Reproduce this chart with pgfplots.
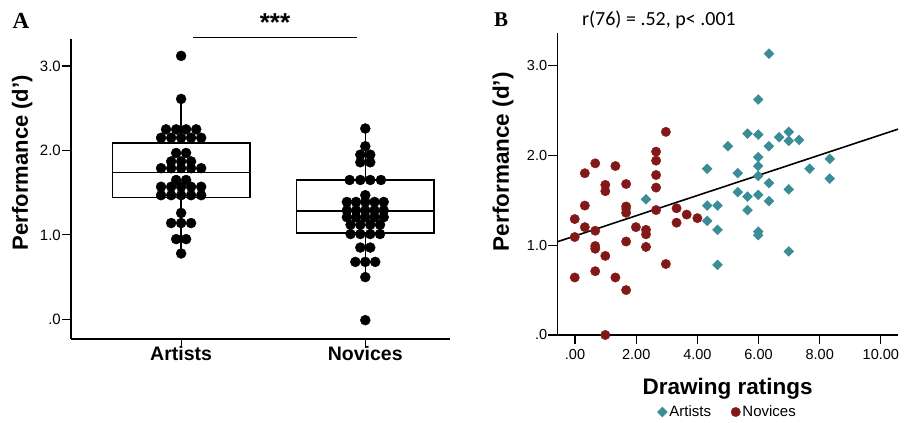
\documentclass[border=0pt]{standalone}
\usepackage{pgfplots}
\pgfplotsset{compat=1.18}
\usepgfplotslibrary{statistics}
\usepackage{fontspec}
\setmainfont{Liberation Sans}
\newfontfamily\serifbold{Liberation Serif}
\newfontfamily\calibri{Carlito}
\definecolor{artteal}{RGB}{58,140,150}
\definecolor{novred}{RGB}{130,24,24}
\begin{document}
\begin{tikzpicture}
\useasboundingbox (0,0) rectangle (905pt,423pt);
% ---------------- Panel A ----------------
\begin{axis}[
  at={(71pt,84pt)}, anchor=south west,
  scale only axis, width=379pt, height=300pt,
  xmin=0.402, xmax=2.46, ymin=-0.233, ymax=3.32,
  axis lines=left, axis line style={-, line width=1.5pt},
  xtick={1,2}, xticklabels={Artists,Novices},
  ytick={0,1,2,3}, yticklabels={.0,1.0,2.0,3.0},
  tick align=outside, major tick length=9pt,
  tick style={line width=1.2pt, black},
  xticklabel style={font=\fontsize{19.5}{22}\selectfont\bfseries, inner sep=0pt, yshift=2pt},
  yticklabel style={font=\fontsize{15}{18}\selectfont, inner sep=1pt},
  ylabel={Performance (d')},
  ylabel style={font=\fontsize{22}{26}\selectfont\bfseries, at={(axis description cs:-0.129,0.588)}, anchor=center},
  clip=false,
]
\addplot[black, line width=1.5pt, boxplot/draw direction=y, boxplot prepared={draw position=1, median=1.74, upper quartile=2.09, lower quartile=1.44, upper whisker=2.61, lower whisker=0.78, box extend=0.746, whisker extend=0}] coordinates {};
\addplot[black, line width=1.5pt, boxplot/draw direction=y, boxplot prepared={draw position=2, median=1.28, upper quartile=1.65, lower quartile=1.02, upper whisker=2.26, lower whisker=0.50, box extend=0.746, whisker extend=0}] coordinates {};
\addplot[only marks, mark=*, mark size=5pt, black] coordinates {
(1,3.12) (1,2.61)
(0.918,2.25)(0.973,2.25)(1.027,2.25)(1.082,2.25)
(0.891,2.15)(0.946,2.15)(1,2.15)(1.054,2.15)(1.109,2.15)
(0.973,1.97)(1.027,1.97)
(0.946,1.87)(1,1.87)(1.054,1.87)
(0.891,1.79)(0.946,1.79)(1,1.79)(1.054,1.79)(1.109,1.79)
(0.973,1.65)(1.027,1.65)
(0.891,1.57)(0.946,1.57)(1,1.57)(1.054,1.57)(1.109,1.57)
(0.891,1.47)(0.946,1.47)(1,1.47)(1.054,1.47)(1.109,1.47)
(1,1.26)
(0.946,1.14)(1,1.14)(1.054,1.14)
(0.973,0.95)(1.027,0.95)
(1,0.78)
};
\addplot[only marks, mark=*, mark size=5pt, black] coordinates {
(2,2.26)(2,2.05)
(1.973,1.95)(2.027,1.95)
(1.973,1.86)(2.027,1.86)
(1.915,1.65)(1.973,1.65)(2.027,1.65)(2.085,1.65)
(2,1.47)
(1.9,1.39)(1.95,1.39)(2,1.39)(2.05,1.39)(2.1,1.39)
(1.9,1.29)(1.95,1.29)(2,1.29)(2.05,1.29)(2.1,1.29)
(1.9,1.21)(1.95,1.21)(2,1.21)(2.05,1.21)(2.1,1.21)
(1.92,1.12)(1.973,1.12)(2.027,1.12)(2.08,1.12)
(1.92,1.01)(1.973,1.01)(2.027,1.01)(2.08,1.01)
(1.973,0.85)(2.027,0.85)
(1.946,0.68)(2,0.68)(2.054,0.68)
(2,0.50)
(2,-0.01)
};
\draw[line width=1.5pt] (axis cs:1.065,3.34) -- (axis cs:1.957,3.34);
\node[font=\fontsize{26}{28}\selectfont\bfseries] at (axis cs:1.51,3.52) {***};
\end{axis}
% ---------------- Panel B ----------------
\begin{axis}[
  at={(557.3pt,88pt)}, anchor=south west,
  scale only axis, width=340.7pt, height=302pt,
  xmin=-0.58, xmax=10.56, ymin=0, ymax=3.36,
  axis lines=left, axis line style={-, line width=1.5pt},
  xtick={0,2,4,6,8,10}, xticklabels={.00,2.00,4.00,6.00,8.00,10.00},
  ytick={0,1,2,3}, yticklabels={.0,1.0,2.0,3.0},
  tick align=outside, major tick length=9pt,
  tick style={line width=1.2pt, black},
  xticklabel style={font=\fontsize{14.5}{17}\selectfont, inner sep=2pt, yshift=-3pt},
  yticklabel style={font=\fontsize{14.5}{17}\selectfont, inner sep=1pt},
  xlabel={Drawing ratings},
  xlabel style={font=\fontsize{22.5}{26}\selectfont\bfseries, at={(axis description cs:0.5,-0.178)}, anchor=center},
  ylabel={Performance (d')},
  ylabel style={font=\fontsize{22.5}{26}\selectfont\bfseries, at={(axis description cs:-0.159,0.574)}, anchor=center},
  legend style={at={(axis description cs:0.5,-0.255)}, anchor=center, draw=none, fill=none,
    legend columns=2, font=\fontsize{15}{18}\selectfont,
    /tikz/every even column/.append style={column sep=18pt}},
  legend cell align=left,
  clip=false,
]
\addplot[only marks, mark=square*, mark size=3.5pt, color=artteal, mark options={rotate=45}] coordinates {
(1.67,1.40)(2.32,1.51)(2.32,0.98)(4.32,1.85)(4.32,1.44)(4.66,1.44)(4.32,1.27)(4.66,1.17)(4.66,0.78)
(5.00,2.10)(5.32,1.80)(5.32,1.59)(5.64,2.24)(5.64,1.54)(5.64,1.39)
(5.99,2.62)(5.99,2.23)(5.99,1.98)(5.99,1.88)(5.99,1.77)(5.99,1.56)(5.99,1.15)(5.99,1.11)
(6.34,3.13)(6.34,2.10)(6.34,1.69)(6.34,1.49)(6.67,2.20)
(6.99,2.26)(6.99,2.16)(6.99,1.62)(6.99,0.93)(7.33,2.17)(7.67,1.85)(8.33,1.96)(8.33,1.74)
};
\addlegendentry{Artists}
\addplot[only marks, mark=*, mark size=4.7pt, color=novred] coordinates {
(2.97,2.26)(2.65,2.04)(2.65,1.94)(2.65,1.78)(2.65,1.64)(2.65,1.39)
(0.66,1.91)(1.32,1.88)(0.32,1.80)(0.99,1.67)(0.99,1.60)(1.67,1.68)
(0.32,1.44)(1.67,1.43)(1.67,1.36)(-0.01,1.29)(0.32,1.20)(0.66,1.16)
(-0.01,1.09)(1.99,1.20)(2.32,1.17)(2.32,1.12)(2.32,0.98)(1.67,1.04)
(0.66,0.99)(0.66,0.96)(0.99,0.88)(0.66,0.71)(-0.01,0.64)(1.32,0.64)
(1.67,0.50)(2.97,0.79)(0.99,0.0)(3.32,1.41)(3.32,1.25)(3.65,1.34)(4.00,1.30)
};
\addlegendentry{Novices}
\addplot[black, line width=1.6pt, forget plot] coordinates {(-0.58,1.037) (10.56,2.29)};
\end{axis}
% ---------------- panel letters and title ----------------
\node[font=\fontsize{23}{26}\selectfont\serifbold\bfseries] at (21pt,402pt) {A};
\node[font=\fontsize{21}{24}\selectfont\serifbold\bfseries] at (501pt,403pt) {B};
\node[font=\fontsize{20}{24}\selectfont\calibri] at (659pt,403pt) {r(76) = .52, p< .001};
\end{tikzpicture}
\end{document}
